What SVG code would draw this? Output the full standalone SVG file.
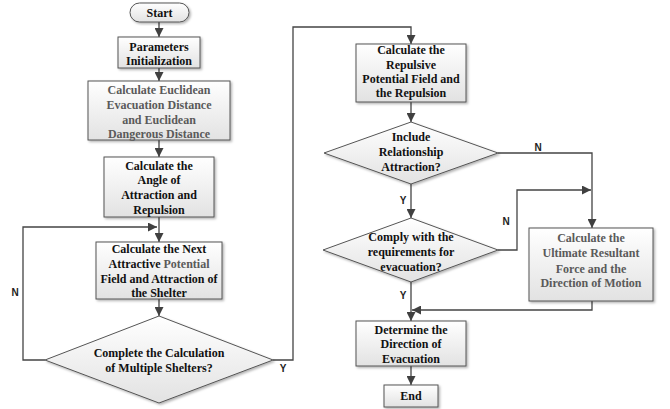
<svg xmlns="http://www.w3.org/2000/svg" width="670" height="409" viewBox="0 0 670 409">
<defs>
<linearGradient id="g" x1="0" y1="0" x2="0" y2="1"><stop offset="0" stop-color="#ffffff"/><stop offset="1" stop-color="#e2e2e2"/></linearGradient>
<filter id="sh" x="-10%" y="-10%" width="130%" height="130%"><feDropShadow dx="1.5" dy="1.5" stdDeviation="1" flood-color="#000" flood-opacity="0.3"/></filter>
<marker id="ar" viewBox="0 0 10 10" refX="10" refY="5" markerWidth="9" markerHeight="9" markerUnits="userSpaceOnUse" orient="auto"><path d="M0,0 L10,5 L0,10 z" fill="#404040"/></marker>
</defs>
<style>
.n{fill:url(#g);stroke:#555;stroke-width:1;filter:url(#sh)}
.t{font-family:"Liberation Serif","Times New Roman",serif;font-weight:bold;font-size:12px;fill:#111;text-anchor:middle}
.gr{fill:#5a5a5a}
.c{fill:none;stroke:#444;stroke-width:1.3}
.a{marker-end:url(#ar)}
.l{font-family:"Liberation Sans",Arial,sans-serif;font-weight:bold;font-size:10px;fill:#222;text-anchor:middle}
</style>
<rect width="670" height="409" fill="#fff"/>
<g id="connectors">
<path class="c a" d="M159,22 V37"/>
<path class="c a" d="M159,68 V81"/>
<path class="c a" d="M159,140 V157"/>
<path class="c a" d="M159,217 V242"/>
<path class="c a" d="M45,360 H23 V227 H157"/>
<path class="c a" d="M159,299 V316"/>
<path class="c a" d="M273,360 H293 V27 H411 V44"/>
<path class="c a" d="M411,102 V122"/>
<path class="c a" d="M498,153 H592 V228"/>
<path class="c a" d="M411,184 V218"/>
<path class="c a" d="M498,250 H517 V190 H591"/>
<path class="c a" d="M592,301 V310 H412"/>
<path class="c a" d="M411,282 V321"/>
<path class="c a" d="M411,366 V385"/>
<text class="l" x="15" y="296">N</text>
<text class="l" x="283" y="372">Y</text>
<text class="l" x="538" y="151">N</text>
<text class="l" x="403" y="204">Y</text>
<text class="l" x="506" y="225">N</text>
<text class="l" x="403" y="299">Y</text>
</g>
<g id="start"><rect class="n" x="130" y="3" width="59" height="19" rx="9.5"/><text class="t" x="159.5" y="17">Start</text></g>
<g id="params"><rect class="n" x="118" y="37" width="82" height="31"/><text class="t" x="159" y="51">Parameters</text><text class="t" x="159" y="65">Initialization</text></g>
<g id="euclid"><rect class="n" x="88" y="81" width="142" height="59"/><text class="t gr" x="159" y="94">Calculate Euclidean</text><text class="t gr" x="159" y="109">Evacuation Distance</text><text class="t gr" x="159" y="124">and Euclidean</text><text class="t gr" x="159" y="138">Dangerous Distance</text></g>
<g id="angle"><rect class="n" x="104" y="157" width="110" height="60"/><text class="t" x="159" y="170">Calculate the</text><text class="t" x="159" y="184">Angle of</text><text class="t" x="159" y="199">Attraction and</text><text class="t" x="159" y="214">Repulsion</text></g>
<g id="next"><rect class="n" x="96" y="242" width="126" height="57"/><text class="t" x="159" y="253">Calculate the Next</text><text class="t" x="159" y="268">Attractive <tspan class="gr">Potential</tspan></text><text class="t" x="159" y="283">Field and Attraction of</text><text class="t" x="159" y="297">the Shelter</text></g>
<g id="complete"><path class="n" d="M159,316 L273,360 L159,403 L45,360 Z"/><text class="t" x="159" y="357">Complete the Calculation</text><text class="t" x="159" y="372">of Multiple Shelters?</text></g>
<g id="repulsive"><rect class="n" x="356" y="44" width="110" height="58"/><text class="t" x="411" y="54">Calculate the</text><text class="t" x="411" y="69">Repulsive</text><text class="t" x="411" y="83">Potential Field and</text><text class="t" x="411" y="97">the Repulsion</text></g>
<g id="include"><path class="n" d="M411,122 L498,153 L411,184 L324,153 Z"/><text class="t" x="411" y="141">Include</text><text class="t" x="411" y="156">Relationship</text><text class="t" x="411" y="171">Attraction?</text></g>
<g id="comply"><path class="n" d="M411,218 L498,250 L411,282 L323,250 Z"/><text class="t" x="411" y="241">Comply with the</text><text class="t" x="411" y="256">requirements for</text><text class="t" x="411" y="271">evacuation?</text></g>
<g id="ultimate"><rect class="n" x="529" y="228" width="124" height="73"/><text class="t gr" x="591" y="242">Calculate the</text><text class="t gr" x="591" y="257">Ultimate Resultant</text><text class="t gr" x="591" y="273">Force and the</text><text class="t gr" x="591" y="287">Direction of Motion</text></g>
<g id="determine"><rect class="n" x="356" y="321" width="110" height="45"/><text class="t" x="411" y="334">Determine the</text><text class="t" x="411" y="348">Direction of</text><text class="t" x="411" y="363">Evacuation</text></g>
<g id="end"><rect class="n" x="384" y="385" width="54" height="22"/><text class="t" x="411" y="400">End</text></g>
</svg>
